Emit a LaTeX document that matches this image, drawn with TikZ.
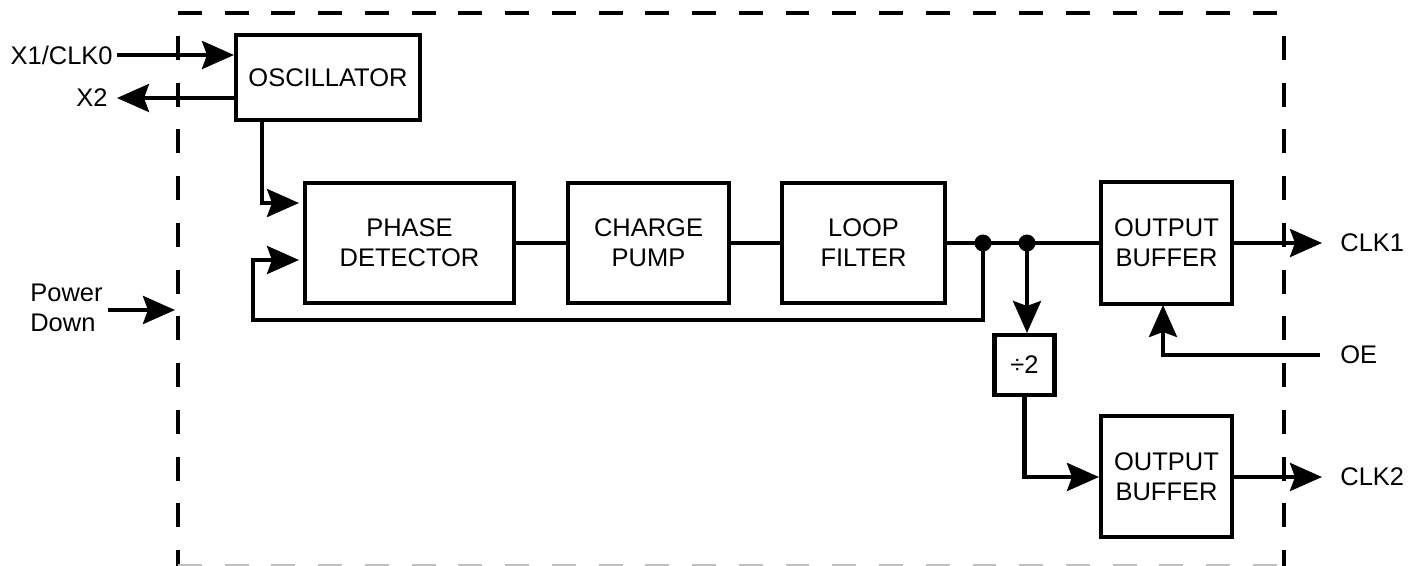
\documentclass[tikz,border=0pt]{standalone}
\usepackage{fontspec}
\setmainfont{Liberation Sans}
\usetikzlibrary{arrows.meta}

\begin{document}
\begin{tikzpicture}[x=0.02cm, y=-0.02cm,
  every node/.style={font=\fontsize{14.5}{17}\selectfont},
  block/.style={draw, line width=2.3pt, align=center, inner sep=0pt},
  wire/.style={line width=2.3pt},
  arr/.style={wire, -{Stealth[length=0.64cm, width=0.56cm, inset=0.1cm]}},
  border/.style={line width=2.8pt, dash pattern=on 13.6pt off 13pt},
  lbl/.style={inner sep=0pt}]
\useasboundingbox (0,0) rectangle (1417,565);

% Dashed chip outline
\draw[border] (178,13) -- (1284,13);
\draw[border] (178,36) -- (178,580);
\draw[border] (1284,36) -- (1284,580);
\draw[border, black!25] (178,566.5) -- (1284,566.5);

% Blocks
\node[block, minimum width=3.68cm, minimum height=1.7cm] (osc) at (328,77.5) {OSCILLATOR};
\node[block, minimum width=4.18cm, minimum height=2.4cm] (pd) at (409.5,243) {PHASE\\DETECTOR};
\node[block, minimum width=3.22cm, minimum height=2.4cm] (cp) at (648.5,243) {CHARGE\\PUMP};
\node[block, minimum width=3.26cm, minimum height=2.4cm] (lf) at (863.5,243) {LOOP\\FILTER};
\node[block, minimum width=2.62cm, minimum height=2.44cm] (ob1) at (1166.5,243) {OUTPUT\\BUFFER};
\node[block, minimum width=1.2cm, minimum height=1.2cm] (div) at (1024.5,365) {÷2};
\node[block, minimum width=2.62cm, minimum height=2.42cm] (ob2) at (1166.5,476.5) {OUTPUT\\BUFFER};

% Pin labels
\node[lbl, anchor=east] (x1) at (113,55) {X1/CLK0};
\node[lbl, anchor=east] (x2) at (108,98) {X2};
\node[lbl, anchor=west, align=left] (pdn) at (30,308) {Power\\Down};
\node[lbl, anchor=west] (clk1) at (1340,243) {CLK1};
\node[lbl, anchor=west] (oe) at (1340,355) {OE};
\node[lbl, anchor=west] (clk2) at (1340,477) {CLK2};

% Junctions and free ends
\coordinate (j1) at (983,243);
\coordinate (j2) at (1027,243);
\coordinate (oscout) at (262,120);
\coordinate (pdin1) at (299,203);
\coordinate (pdin2) at (299,260);
\coordinate (fbl) at (253,320);
\coordinate (pdnend) at (175,310);
\coordinate (clk1end) at (1322,243);
\coordinate (clk2end) at (1322,477);
\coordinate (oeend) at (1320,355);
\fill (j1) circle[radius=0.17cm];
\fill (j2) circle[radius=0.17cm];

% Connections
\draw[arr] (x1.east) ++(4,0) -- (osc.west |- x1);
\draw[arr] (osc.west |- x2) -- ([xshift=0.18cm]x2.east);
\draw[arr] ([xshift=0.1cm]pdn.east |- pdnend) -- (pdnend);
\draw[arr] (oscout) |- (pdin1);
\draw[arr] (j1) |- (fbl) |- (pdin2);
\draw[wire] (pd) -- (cp);
\draw[wire] (cp) -- (lf);
\draw[wire] (lf) -- (ob1);
\draw[arr] (j2) -- (div.north -| j2);
\draw[arr] (div.south) |- (ob2.west |- clk2end);
\draw[arr] (ob1.east) -- (clk1end);
\draw[arr] (ob2.east |- clk2end) -- (clk2end);
\draw[arr] (oeend) -| (1163,305);
\end{tikzpicture}
\end{document}
